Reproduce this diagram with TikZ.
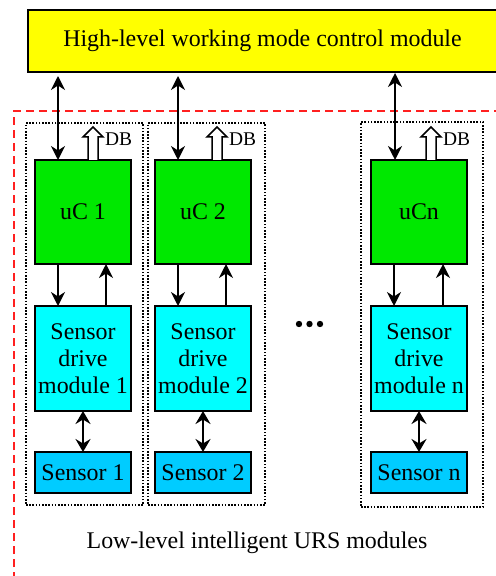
\documentclass[tikz,border=0pt]{standalone}
\usepackage{fontspec}
\setmainfont{Liberation Serif}
\usetikzlibrary{arrows.meta,calc}
\definecolor{ylw}{HTML}{FFFF00}
\definecolor{grn}{HTML}{00E800}
\definecolor{cyn}{HTML}{00FFFF}
\definecolor{sens}{HTML}{00CCFF}
\definecolor{redd}{HTML}{FF2020}
\begin{document}
\begin{tikzpicture}[x=1bp,y=-1bp,
  box/.style={draw=black,line width=1.7bp,inner sep=0pt,outer sep=0pt,anchor=north west,
    font=\fontsize{24}{27}\selectfont,align=center},
  ucbox/.style={box,fill=grn,minimum width=96bp,minimum height=104bp},
  sdbox/.style={box,fill=cyn,minimum width=96bp,minimum height=105bp},
  snbox/.style={box,fill=sens,minimum width=96bp,minimum height=41bp},
  dotbox/.style={draw=black,line width=1.6bp,dash pattern=on 1.6bp off 1.6bp,inner sep=0pt,outer sep=0pt,anchor=north west},
  tip/.style={Stealth[length=14bp,width=14bp,inset=4.5bp]},
  bidir/.style={line width=1.8bp,{Stealth[length=14bp,width=14bp,inset=4.5bp]}-{Stealth[length=14bp,width=14bp,inset=4.5bp]}},
  bidirthick/.style={line width=2.8bp,{Stealth[length=13bp,width=15bp,inset=4.5bp]}-{Stealth[length=13bp,width=15bp,inset=4.5bp]}},
  uni/.style={line width=1.8bp,-{Stealth[length=14bp,width=14bp,inset=4.5bp]}},
  dbarrow/.style={draw=black,fill=white,line width=1.5bp,line join=miter},
  dblabel/.style={anchor=west,inner sep=0pt,font=\fontsize{19.5}{22}\selectfont},
  caption/.style={inner sep=0pt,font=\fontsize{24}{27}\selectfont}
]
\useasboundingbox (0,0) rectangle (496,576);

% outer red dashed region
\draw[redd,line width=1.8bp,dash pattern=on 8bp off 5bp] (14,580) -- (14,111) -- (500,111);

% top module
\node[box,fill=ylw,minimum width=469bp,minimum height=62bp] (top) at (28,10) {High-level working mode control module};

% dotted group boxes
\node[dotbox,minimum width=117bp,minimum height=382bp] (g1) at (26,123) {};
\node[dotbox,minimum width=117bp,minimum height=382bp] (g2) at (148,123) {};
\node[dotbox,minimum width=122bp,minimum height=385bp] (gn) at (361,122) {};

% microcontrollers
\node[ucbox] (uc1) at (35,160) {uC 1};
\node[ucbox] (uc2) at (155,160) {uC 2};
\node[ucbox] (ucn) at (371,160) {uCn};

% sensor drive modules
\node[sdbox] (sd1) at (35,306) {Sensor\\drive\\module 1};
\node[sdbox] (sd2) at (155,306) {Sensor\\drive\\module 2};
\node[sdbox] (sdn) at (371,306) {Sensor\\drive\\module n};

% sensors
\node[snbox] (s1) at (35,452) {Sensor 1};
\node[snbox] (s2) at (155,452) {Sensor 2};
\node[snbox] (sn) at (371,452) {Sensor n};

% top <-> uC arrows
\draw[bidir,shorten <=4bp] ([xshift=23bp]uc1.north west |- top.south) -- ([xshift=23bp]uc1.north west);
\draw[bidir,shorten <=4bp] ([xshift=23bp]uc2.north west |- top.south) -- ([xshift=23bp]uc2.north west);
\draw[bidir,shorten <=1bp] ([xshift=24bp]ucn.north west |- top.south) -- ([xshift=24bp]ucn.north west);

% uC -> sensor drive, sensor drive -> uC
\foreach \u/\d/\a/\b in {uc1/sd1/23/71, uc2/sd2/23/71, ucn/sdn/23/72}{
  \draw[uni] ([xshift=\a bp]\u.south west) -- ([xshift=\a bp]\d.north west);
  \draw[uni] ([xshift=\b bp]\d.north west) -- ([xshift=\b bp]\u.south west);
}

% sensor drive <-> sensor
\draw[bidirthick] (sd1.south) -- (s1.north);
\draw[bidirthick] (sd2.south) -- (s2.north);
\draw[bidirthick] (sdn.south) -- (sn.north);

% DB hollow arrows
\foreach \u/\c in {uc1/58, uc2/62, ucn/60}{
  \coordinate (db-\u) at ([xshift=\c bp]\u.north west);
  \draw[dbarrow] (db-\u) ++(-5,0) -- ++(0,-23) -- ++(-5,0) -- ++(10,-10) -- ++(10,10) -- ++(-5,0) -- ++(0,23);
  \node[dblabel] at ([xshift=12bp,yshift=21bp]db-\u) {DB};
}

% ellipsis dots
\fill (299,324) circle (3.2);
\fill (309.5,324) circle (3.2);
\fill (320,324) circle (3.2);

% caption
\node[caption] (cap) at (257,543) {Low-level intelligent URS modules};
\end{tikzpicture}
\end{document}
